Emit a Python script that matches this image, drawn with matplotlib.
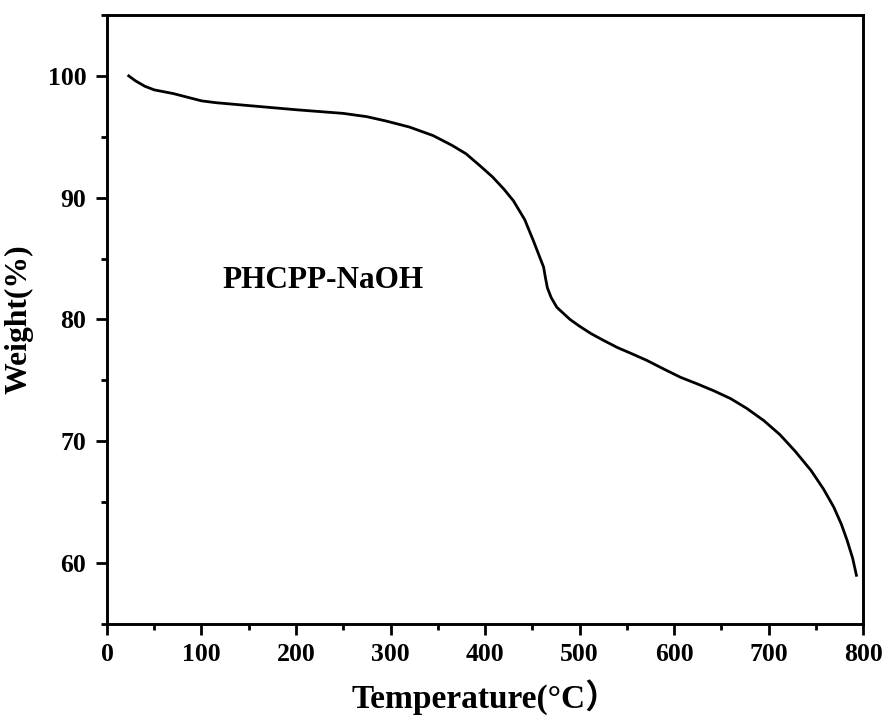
import matplotlib
matplotlib.use('Agg')
import matplotlib.pyplot as plt
from matplotlib.ticker import MultipleLocator

# TGA data
temperature = [23, 30, 40, 50, 70, 85, 100, 115, 150, 200, 250, 275, 295, 320,
               345, 365, 380, 395, 408, 420, 430, 442, 451, 457, 462, 464, 466,
               470, 476, 483, 490, 500, 512, 525, 540, 555, 571, 590, 607, 625,
               642, 660, 677, 695, 712, 728, 745, 758, 769, 777, 783, 789, 793]
weight = [100.0, 99.6, 99.15, 98.85, 98.55, 98.25, 97.95, 97.8, 97.56, 97.22,
          96.92, 96.65, 96.3, 95.8, 95.1, 94.3, 93.6, 92.6, 91.7, 90.7, 89.75,
          88.2, 86.5, 85.3, 84.3, 83.4, 82.6, 81.8, 81.0, 80.5, 80.0, 79.45,
          78.85, 78.3, 77.7, 77.2, 76.65, 75.9, 75.25, 74.7, 74.15, 73.5, 72.7,
          71.7, 70.55, 69.2, 67.6, 66.1, 64.6, 63.2, 61.9, 60.4, 59.0]
sample_name = 'PHCPP-NaOH'

plt.rcParams['font.family'] = ['Liberation Serif', 'Noto Sans CJK SC']
plt.rcParams['font.weight'] = 'bold'

fig = plt.figure(figsize=(8.87, 7.23), dpi=100)
ax = fig.add_axes([0.1206, 0.1369, 0.973 - 0.1206, 0.9793 - 0.1369])

ax.plot(temperature, weight, color='black', linewidth=2.0,
        solid_joinstyle='round')

ax.set_xlim(0, 800)
ax.set_ylim(55, 105)
ax.xaxis.set_major_locator(MultipleLocator(100))
ax.xaxis.set_minor_locator(MultipleLocator(50))
ax.yaxis.set_major_locator(MultipleLocator(10))
ax.yaxis.set_minor_locator(MultipleLocator(5))
ax.set_yticks([60, 70, 80, 90, 100])

for s in ax.spines.values():
    s.set_linewidth(2.1)

ax.tick_params(which='major', direction='out', length=8, width=2, labelsize=18.5)
ax.tick_params(which='minor', direction='out', length=4.5, width=2)
ax.tick_params(axis='y', which='major', pad=7)
ax.tick_params(axis='x', which='major', pad=6)
for lab in ax.get_xticklabels() + ax.get_yticklabels():
    lab.set_fontweight('bold')

ax.set_xlabel('Temperature(°C）', fontsize=24, fontweight='bold', labelpad=9)
ax.set_ylabel('Weight(%)', fontsize=22.8, fontweight='bold', labelpad=10)

ax.text(229, 83.2, sample_name, fontsize=22.5, fontweight='bold',
        ha='center', va='center')

fig.savefig('out.png', dpi=100)
